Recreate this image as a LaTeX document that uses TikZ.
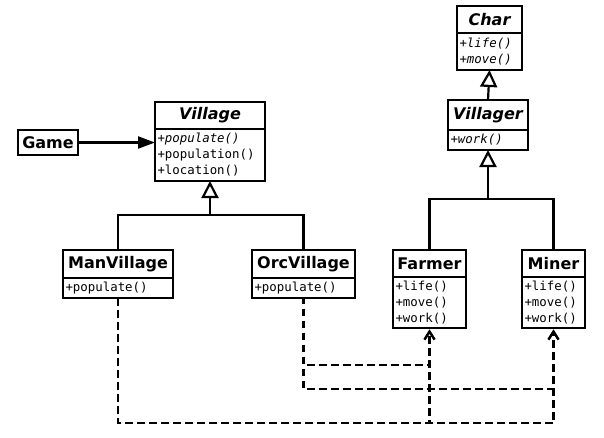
\documentclass[tikz,border=0pt]{standalone}
\usepackage{fontspec}
\usetikzlibrary{arrows.meta}
\newfontfamily\dvsans{DejaVu Sans}
\newfontfamily\dvmono{DejaVu Sans Mono}
\begin{document}
\begin{tikzpicture}[x=1pt,y=-1pt,
  title/.style={draw, line width=2.2pt, fill=white, inner sep=0pt, outer sep=0pt,
    font=\dvsans\bfseries\fontsize{16}{18}\selectfont},
  methods/.style={draw, line width=2.2pt, fill=white, inner xsep=2.5pt, inner ysep=0pt, outer sep=0pt,
    anchor=north, align=left, font=\dvmono\fontsize{12.4}{16}\selectfont},
  conn/.style={line width=2.2pt},
  gen/.style={line width=2.2pt, -{Triangle[open, length=17pt, width=17pt]}},
  assoc/.style={line width=2.2pt, -{Triangle[length=17pt, width=12pt]}},
  dep/.style={line width=2.2pt, dash pattern=on 7.5pt off 4.5pt, shorten >=1.5pt,
    -{Straight Barb[length=8pt, width=10pt]}}
]
\useasboundingbox (0,0) rectangle (604,437);
\fill[white] (0,0) rectangle (604,437);

% Char
\node[title, minimum width=65pt, minimum height=27pt] (char) at (489.5,19.5) {\itshape Char};
\node[methods, minimum width=65pt, minimum height=37pt, text width=60pt] (charm) at (char.south) {\textit{+life()}\\\textit{+move()}};

% Villager
\node[title, minimum width=80pt, minimum height=30pt] (villager) at (488,115) {\itshape Villager};
\node[methods, minimum width=80pt, minimum height=20pt, text width=75pt] (villagerm) at (villager.south) {\textit{+work()}};

% Village
\node[title, minimum width=110pt, minimum height=27pt] (village) at (210,115.5) {\itshape Village};
\node[methods, minimum width=110pt, minimum height=52pt, text width=105pt] (villagem) at (village.south) {\textit{+populate()}\\+population()\\+location()};

% Game
\node[title, minimum width=60pt, minimum height=25pt] (game) at (48,142.5) {Game};

% ManVillage
\node[title, minimum width=110pt, minimum height=28pt] (manv) at (118,264) {ManVillage};
\node[methods, minimum width=110pt, minimum height=20pt, text width=105pt] (manvm) at (manv.south) {+populate()};

% OrcVillage
\node[title, minimum width=103pt, minimum height=28pt] (orcv) at (303.5,264) {OrcVillage};
\node[methods, minimum width=103pt, minimum height=20pt, text width=98pt] (orcvm) at (orcv.south) {+populate()};

% Farmer
\node[title, minimum width=73pt, minimum height=27pt] (farmer) at (429.5,263.5) {Farmer};
\node[methods, minimum width=73pt, minimum height=51pt, text width=68pt] (farmerm) at (farmer.south) {+life()\\+move()\\+work()};

% Miner
\node[title, minimum width=63pt, minimum height=27pt] (miner) at (553.5,263.5) {Miner};
\node[methods, minimum width=63pt, minimum height=51pt, text width=58pt] (minerm) at (miner.south) {+life()\\+move()\\+work()};

% coordinates
\coordinate (vbar) at (210,215);
\coordinate (cbar) at (488,199);
\coordinate (ya) at (0,365);
\coordinate (yb) at (0,389);
\coordinate (yc) at (0,423);

% generalizations
\draw[gen] (villager.north) -- (charm.south);
\draw[conn] (farmer.north) |- (cbar) -| (miner.north);
\draw[gen] (villagerm.south |- cbar) -- (villagerm.south);
\draw[conn] (manv.north) |- (vbar) -| (orcv.north);
\draw[gen] (villagem.south |- vbar) -- (villagem.south);

% association
\draw[assoc] (game.east) -- (villagem.west |- game.east);

% dependencies
\draw[dep, dash phase=1.5pt] (orcvm.south) -- (orcvm.south |- ya) -- (farmerm.south |- ya) -- (farmerm.south);
\draw[dep, dash phase=1.5pt] (orcvm.south) -- (orcvm.south |- yb) -- (minerm.south |- yb) -- (minerm.south);
\draw[dep] (manvm.south) -- (manvm.south |- yc) -- (farmerm.south |- yc) -- (farmerm.south);
\draw[dep] (manvm.south) -- (manvm.south |- yc) -- (minerm.south |- yc) -- (minerm.south);
\end{tikzpicture}
\end{document}
